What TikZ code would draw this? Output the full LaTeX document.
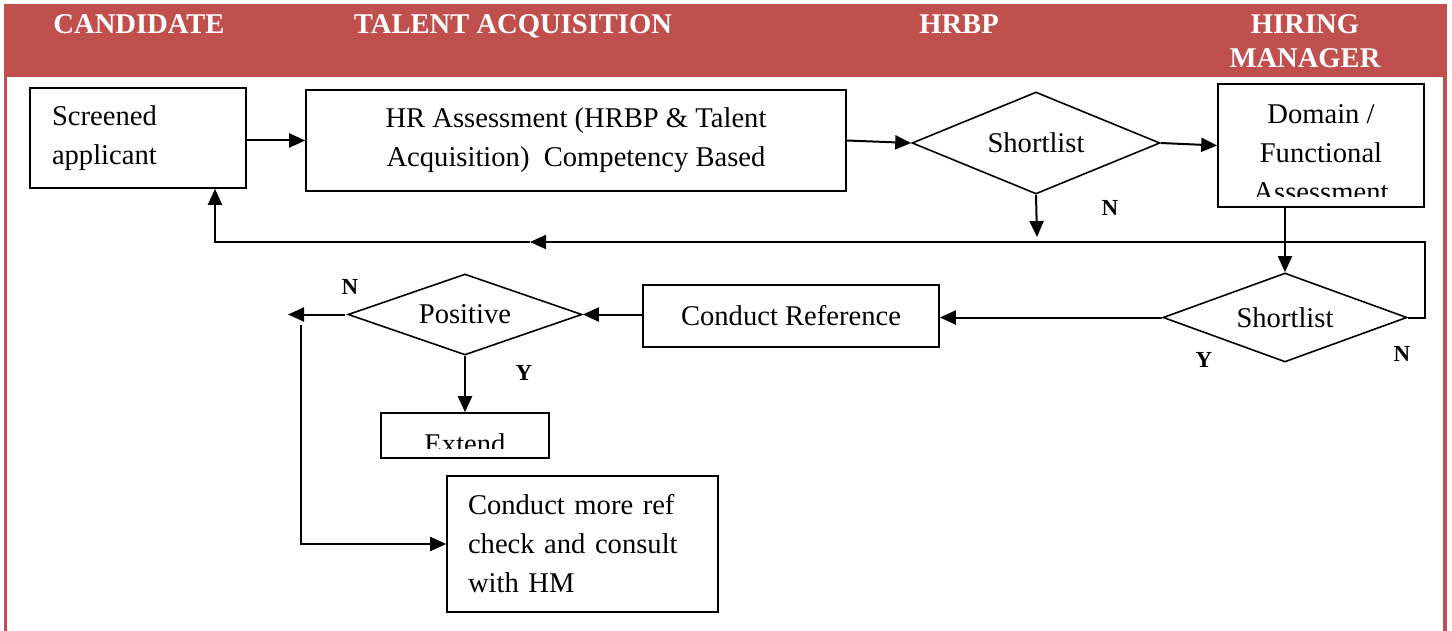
\documentclass[tikz,border=0pt]{standalone}
\usepackage{fontspec}
\setmainfont{Liberation Serif}
\usetikzlibrary{shapes.geometric,arrows.meta}
\definecolor{hdr}{HTML}{C0504D}
\begin{document}
\begin{tikzpicture}[x=0.5pt,y=-0.5pt,
  box/.style={draw, line width=0.8pt, inner sep=0pt, font=\fontsize{14.3}{19.5}\selectfont},
  dia/.style={draw, diamond, line width=0.8pt, inner sep=0pt, font=\fontsize{14.3}{19.5}\selectfont},
  txt/.style={font=\fontsize{14.3}{19.5}\selectfont, align=center},
  conn/.style={line width=1pt, -{Triangle[length=8pt,width=7pt]}},
  plain/.style={line width=1pt},
  lbl/.style={font=\fontsize{11.5}{13}\selectfont\bfseries},
  hd/.style={text=white, font=\fontsize{14.3}{17}\selectfont\bfseries, align=center}]
\useasboundingbox (0,0) rectangle (1452,631);
% header and frame
\fill[hdr] (4,4) rectangle (1447,77);
\fill[hdr] (4,77) rectangle (7,631);
\fill[hdr] (1443,77) rectangle (1447,631);
\node[hd, anchor=base] (hcand) at (139,34) {CANDIDATE};
\node[hd, anchor=base] (hta) at (513,34) {TALENT ACQUISITION};
\node[hd, anchor=base] (hhrbp) at (959,34) {HRBP};
\node[hd] (hhm) at (1305,41) {HIRING\\MANAGER};
% nodes
\node[box, minimum width=108pt, minimum height=50pt, text width=86pt, align=left] (scr) at (138,138) {Screened\\applicant};
\node[box, minimum width=270pt, minimum height=50.5pt, align=center] (hr) at (576,140.5) {HR Assessment (HRBP \& Talent\\Acquisition)\ \ Competency Based};
\node[dia, aspect=2.43, minimum width=124pt, minimum height=51pt] (sl1) at (1036,143) {Shortlist};
\node[box, minimum width=103pt, minimum height=61.5pt] (dom) at (1321,145.5) {};
\begin{scope}
  \clip (1218,86) rectangle (1424,197);
  \node[txt] (domtxt) at (1321,153) {Domain /\\Functional\\Assessment};
\end{scope}
\node[dia, aspect=2.74, minimum width=122pt, minimum height=44.5pt] (sl2) at (1285,317.5) {Shortlist};
\node[box, minimum width=148pt, minimum height=31pt] (cref) at (791,316) {Conduct Reference};
\node[dia, aspect=2.89, minimum width=117pt, minimum height=40.5pt] (pos) at (465,314.5) {Positive};
\node[box, minimum width=84pt, minimum height=22.5pt] (ext) at (465,435.5) {};
\begin{scope}
  \clip (381,414) rectangle (549,448);
  \node[txt, anchor=base] (exttxt) at (465,453) {Extend};
\end{scope}
\node[box, minimum width=135.5pt, minimum height=68pt, text width=114.5pt, align=left] (more) at (582.5,544) {Conduct more ref\\check and consult\\with HM};
% coordinates
\coordinate (n1end) at (1037,237);
\coordinate (rr) at (1425,242);
\coordinate (rmid) at (530,242);
\coordinate (rl) at (215,242);
\coordinate (pstart) at (345,314.5);
\coordinate (pend) at (288,314.5);
\coordinate (vtop) at (301,325);
% connectors
\draw[conn] (scr.east |- hr.west) -- (hr.west);
\draw[conn] (hr.east) -- (sl1.west);
\draw[conn] (sl1.east) -- (dom.west);
\draw[conn] (sl1.south) -- (n1end);
\draw[conn] (sl2.east) -| (rr) -- (rmid);
\draw[conn] (rmid) -- (rl) -- (rl |- scr.south);
\draw[conn] (dom.south -| sl2.north) -- (sl2.north);
\draw[conn] (sl2.west) -- (sl2.west -| cref.east);
\draw[conn] (pos.east -| cref.west) -- (pos.east);
\draw[conn] (pstart) -- (pend);
\draw[conn] (pos.south) -- (ext.north);
\draw[conn] (vtop) |- (more.west);
% labels
\node[lbl] (lN1) at (1110,208) {N};
\node[lbl] (lY2) at (1204,360) {Y};
\node[lbl] (lN2) at (1402,354) {N};
\node[lbl] (lN3) at (350,287) {N};
\node[lbl] (lY3) at (524,373) {Y};
\end{tikzpicture}
\end{document}
